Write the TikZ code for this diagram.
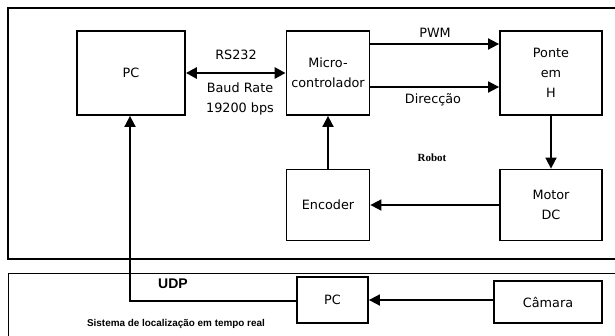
\documentclass[tikz,border=0pt]{standalone}
\usepackage{fontspec}
\setmainfont{DejaVu Sans}
\newfontfamily\labsans{Liberation Sans}
\newfontfamily\labserif{Liberation Serif}
\usetikzlibrary{arrows.meta}
\begin{document}
\begin{tikzpicture}[x=1pt,y=-1pt,
  blk/.style={draw,line width=1.8pt,minimum width=#1,inner sep=0pt,align=center,font=\fontsize{12.8}{20}\selectfont},
  wire/.style={line width=1.8pt,-{Triangle[length=11pt,width=11pt]}},
  txt/.style={inner sep=0pt,font=\fontsize{12.8}{20}\selectfont,align=center}]
\useasboundingbox (0,0) rectangle (615,335);
\begin{scope}
\clip (0,0) rectangle (615,335);
% enclosures
\draw[line width=1.8pt] (640,8) -- (8,8) -- (8,259) -- (640,259);
\draw[line width=1pt] (640,273) -- (8,273) -- (8,345);
\end{scope}
% blocks
\node[blk=108pt,minimum height=84pt] (pc) at (131,73) {PC};
\node[blk=83pt,minimum height=84pt] (mcu) at (328,73) {Micro-\\controlador};
\node[blk=102pt,minimum height=84pt] (ponte) at (551,73) {Ponte\\em\\H};
\node[blk=83pt,minimum height=71pt] (enc) at (328,205) {Encoder};
\node[blk=102pt,minimum height=71pt] (motor) at (551,205) {Motor\\DC};
\node[blk=71pt,minimum height=46pt] (pc2) at (332.5,300) {PC};
\node[blk=108pt,minimum height=42pt] (cam) at (548,302) {Câmara};
% links
\draw[line width=2.8pt,{Triangle[length=11pt,width=11pt]}-{Triangle[length=11pt,width=11pt]}] (pc.east) -- (mcu.west);
\draw[wire] (mcu.east |- 0,44) -- (ponte.west |- 0,44);
\draw[wire] (mcu.east |- 0,87) -- (ponte.west |- 0,87);
\draw[wire] (ponte.south) -- (motor.north);
\draw[wire] (motor.west) -- (enc.east);
\draw[wire] (enc.north) -- (mcu.south);
\draw[wire] (cam.west |- 0,300) -- (pc2.east |- 0,300);
\coordinate (bend) at (130,301);
\draw[wire] (pc2.west |- 0,301) -- (bend) -- (bend |- pc.south);
% labels
\node[txt] (rs) at (236,55) {RS232};
\node[txt] (baud) at (240,99) {Baud Rate\\19200 bps};
\node[txt] (pwm) at (435,33) {PWM};
\node[txt] (dir) at (433,100) {Direcção};
\node[inner sep=0pt,font=\labserif\bfseries\fontsize{11}{12}\selectfont] (robot) at (432,158) {Robot};
\node[inner sep=0pt,font=\labsans\bfseries\fontsize{14}{15}\selectfont] (udp) at (173,284) {UDP};
\node[inner sep=0pt,font=\labsans\bfseries\fontsize{9.9}{11}\selectfont] (sys) at (176,324) {Sistema de localização em tempo real};
\end{tikzpicture}
\end{document}
